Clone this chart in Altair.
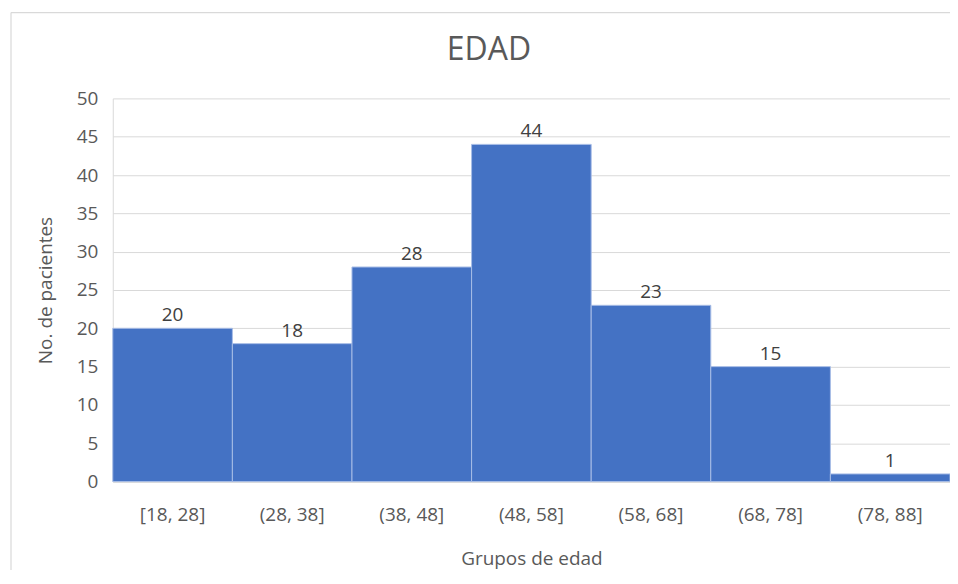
import altair as alt
import pandas as pd

grupos = ["[18, 28]", "(28, 38]", "(38, 48]", "(48, 58]", "(58, 68]", "(68, 78]", "(78, 88]"]
pacientes = [20, 18, 28, 44, 23, 15, 1]
titulo = ["EDAD"]

df = pd.DataFrame({"grupo": grupos, "n": pacientes})

FONT = "Open Sans"
GRAY = "#595959"
FS = 19

x = alt.X("grupo:N", sort=grupos, title="Grupos de edad",
          scale=alt.Scale(paddingInner=0, paddingOuter=0),
          axis=alt.Axis(labelAngle=0, labelFontSize=FS, labelColor=GRAY, labelFont=FONT,
                        labelPadding=24, titleFontSize=FS, titleColor=GRAY, titleFont=FONT,
                        titleFontWeight="normal", titlePadding=25, ticks=False,
                        domainColor="#d9d9d9", domainWidth=1.5))
y = alt.Y("n:Q", title="No. de pacientes",
          scale=alt.Scale(domain=[0, 50]),
          axis=alt.Axis(values=list(range(0, 51, 5)), labelFontSize=FS, labelColor=GRAY,
                        labelFont=FONT, labelPadding=15, labelOverlap=False,
                        titleFontSize=FS, titleColor=GRAY,
                        titleFont=FONT, titleFontWeight="normal", titlePadding=21,
                        ticks=False, gridColor="#d9d9d9", gridWidth=1,
                        domainColor="#d9d9d9"))

bars = alt.Chart(df).mark_bar(color="#4472C4", stroke="#a8bde6", strokeWidth=1).encode(x=x, y=y)
labels = alt.Chart(df).mark_text(baseline="bottom", dy=-3, fontSize=FS, font=FONT,
                                 color="#404040").encode(x=x, y=y, text="n:Q")

tdf = pd.DataFrame({"t": titulo})
title = alt.Chart(tdf).mark_text(fontSize=32, font=FONT, color=GRAY, baseline="middle",
                                 align="center").encode(
    x=alt.value(377), y=alt.value(-48), text="t:N")

frame = alt.Chart(tdf).mark_rule(color="#d9d9d9", strokeWidth=1.2, clip=False).encode(
    x=alt.value(-102), x2=alt.value(860), y=alt.value(-86))
frame_left = alt.Chart(tdf).mark_rule(color="#d9d9d9", strokeWidth=1.2, clip=False).encode(
    x=alt.value(-102), y=alt.value(-86), y2=alt.value(500))

chart = alt.layer(frame, frame_left, bars, labels, title).properties(
    width=839, height=384,
    autosize=alt.AutoSizeParams(type="none"),
    padding={"left": 105, "top": 90, "right": 0, "bottom": 88},
).configure_view(stroke=None)

chart.save("out.html", embed_options={"renderer": "svg", "actions": False})
